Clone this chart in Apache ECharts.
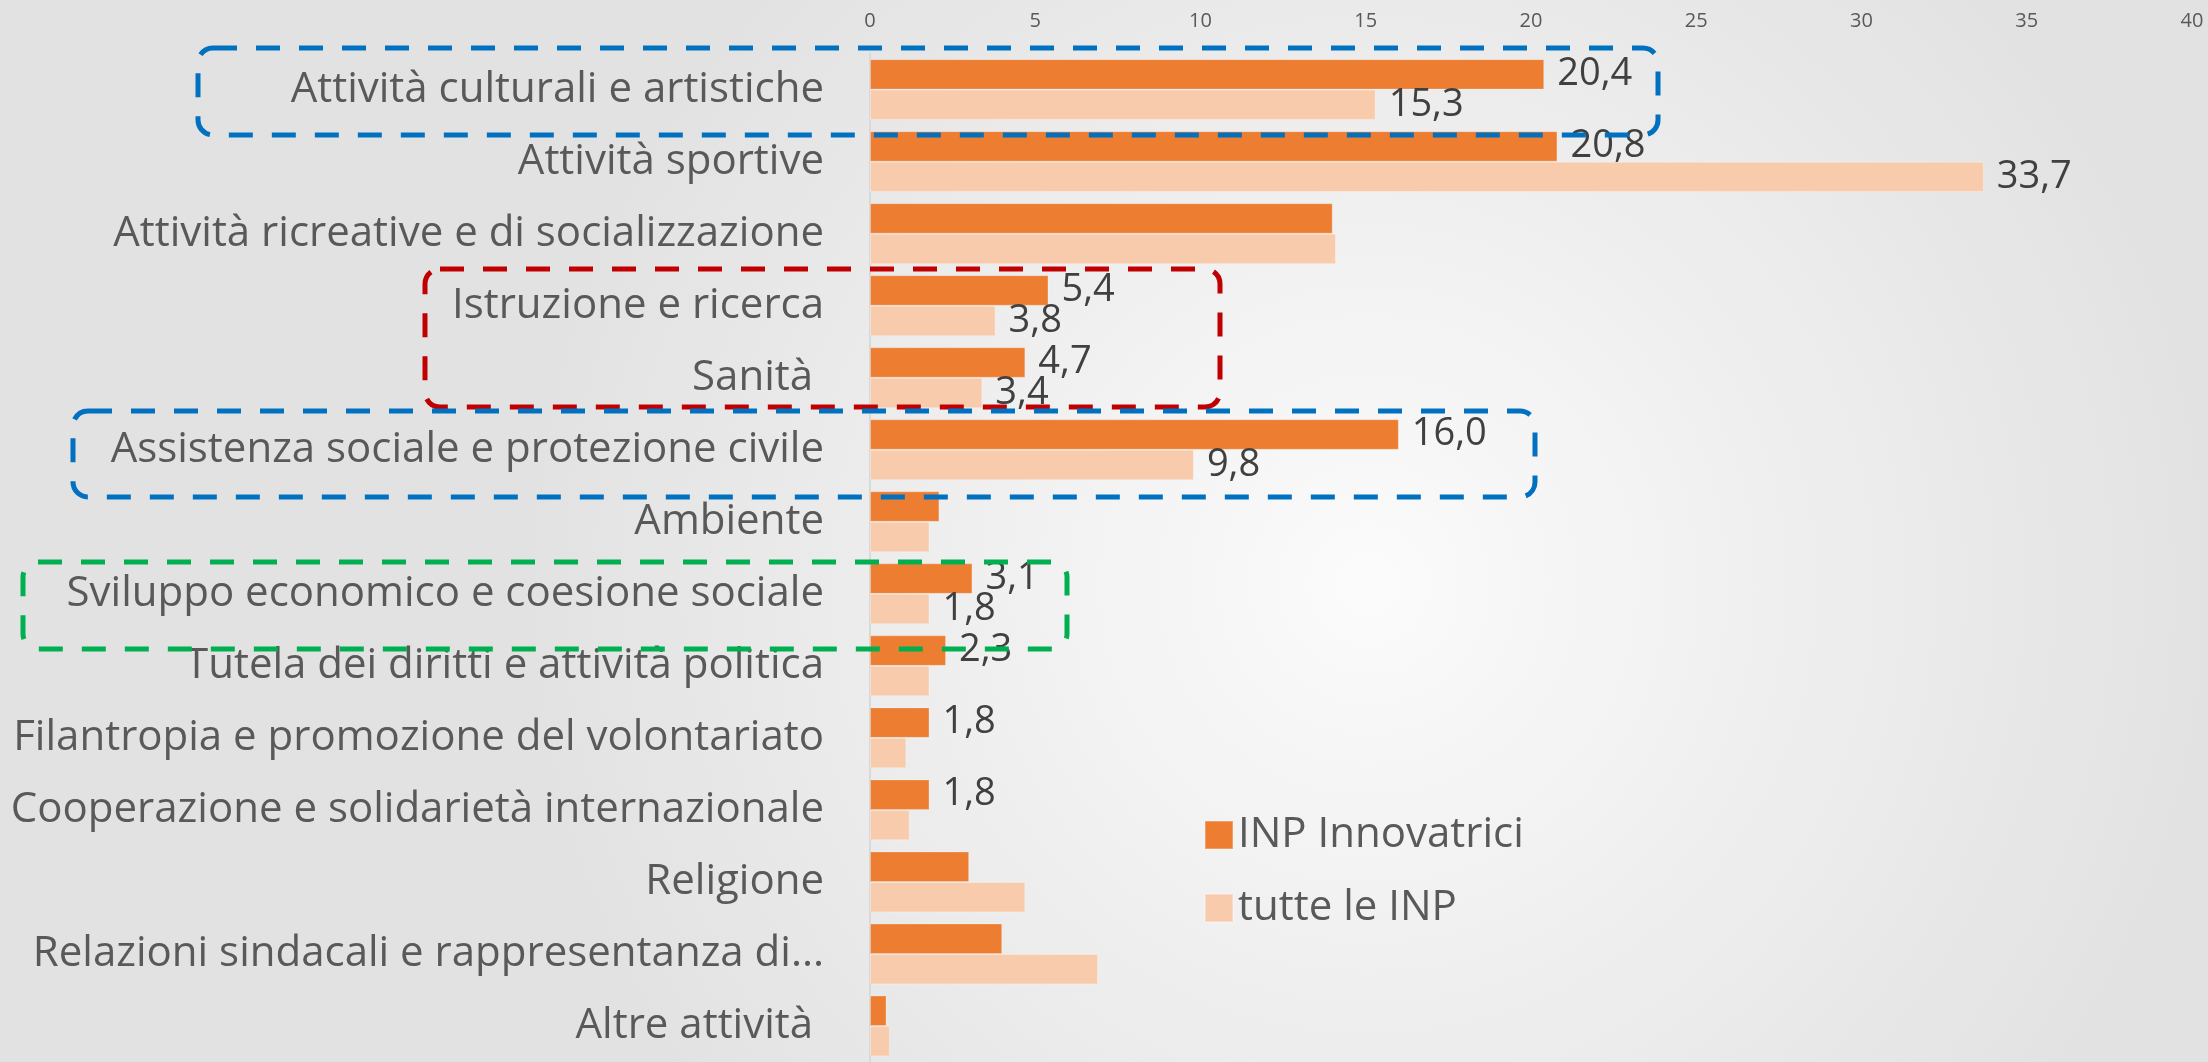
<!DOCTYPE html>
<html>
<head>
<meta charset="utf-8">
<style>
  html, body { margin: 0; padding: 0; width: 2208px; height: 1062px; overflow: hidden; }
  #chart { width: 2208px; height: 1062px; }
</style>
<script src="https://cdn.jsdelivr.net/npm/echarts@6/dist/echarts.min.js"></script>
</head>
<body>
<div id="chart"></div>
<script>
const categories = [
  'Attività culturali e artistiche',
  'Attività sportive',
  'Attività ricreative e di socializzazione',
  'Istruzione e ricerca',
  'Sanità ',
  'Assistenza sociale e protezione civile',
  'Ambiente',
  'Sviluppo economico e coesione sociale',
  'Tutela dei diritti e attività politica',
  'Filantropia e promozione del volontariato',
  'Cooperazione e solidarietà internazionale',
  'Religione',
  'Relazioni sindacali e rappresentanza di...',
  'Altre attività '
];
const seriesNames = ['INP Innovatrici', 'tutte le INP'];
const innovatrici = [20.4, 20.8, 14.0, 5.4, 4.7, 16.0, 2.1, 3.1, 2.3, 1.8, 1.8, 3.0, 4.0, 0.5];
const tutte       = [15.3, 33.7, 14.1, 3.8, 3.4, 9.8, 1.8, 1.8, 1.8, 1.1, 1.2, 4.7, 6.9, 0.6];
const innovLabelShown = [true, true, false, true, true, true, false, true, true, true, true, false, false, false];
const tutteLabelShown = [true, true, false, true, true, true, false, true, false, false, false, false, false, false];
const xMin = 0, xMax = 40, xInterval = 5;

const FONT = '"Open Sans", "Noto Sans", sans-serif';
const fmt = v => v.toFixed(1).replace('.', ',');

function buildData(values, shown) {
  return values.map((v, i) => ({ value: v, label: { show: shown[i] } }));
}

const chart = echarts.init(document.getElementById('chart'));

const labelStyle = {
  position: 'right',
  distance: 13,
  fontFamily: FONT,
  fontSize: 38,
  color: '#404040',
  formatter: p => fmt(p.value)
};

function box(x, y, w, h, color) {
  return {
    type: 'rect',
    z: 100,
    silent: true,
    shape: { x: x, y: y, width: w, height: h, r: 15 },
    style: { fill: 'none', stroke: color, lineWidth: 5, lineDash: [24, 19] }
  };
}

chart.setOption({
  backgroundColor: {
    type: 'radial', x: 0.62, y: 0.55, r: 0.8,
    colorStops: [{ offset: 0, color: '#fbfbfb' }, { offset: 1, color: '#e2e2e2' }]
  },
  animation: false,
  grid: { left: 870, right: 16, top: 53.6, bottom: -7.6, containLabel: false },
  xAxis: {
    type: 'value',
    position: 'top',
    min: xMin, max: xMax, interval: xInterval,
    axisLine: { show: false },
    axisTick: { show: false },
    splitLine: { show: false },
    axisLabel: { fontFamily: FONT, fontSize: 20, color: '#595959', margin: 22 }
  },
  yAxis: {
    type: 'category',
    inverse: true,
    data: categories,
    axisLine: { show: true, lineStyle: { color: '#d9d9d9', width: 2 } },
    axisTick: { show: false },
    axisLabel: { fontFamily: FONT, fontSize: 42, color: '#595959', margin: 46 }
  },
  legend: {
    data: seriesNames,
    orient: 'vertical',
    left: 1199,
    top: 809,
    itemWidth: 28,
    itemHeight: 28,
    itemGap: 31,
    icon: 'rect',
    textStyle: { fontFamily: FONT, fontSize: 42, color: '#595959', lineHeight: 42 }
  },
  series: [
    {
      name: seriesNames[0],
      type: 'bar',
      data: buildData(innovatrici, innovLabelShown),
      barGap: '0%',
      barCategoryGap: '15.4%',
      itemStyle: { color: '#ED7D31', borderColor: 'rgba(255,255,255,0.25)', borderWidth: 1 },
      label: labelStyle
    },
    {
      name: seriesNames[1],
      type: 'bar',
      data: buildData(tutte, tutteLabelShown),
      barGap: '0%',
      barCategoryGap: '15.4%',
      itemStyle: { color: '#F8CBAD', borderColor: 'rgba(255,255,255,0.3)', borderWidth: 1 },
      label: labelStyle
    }
  ],
  graphic: [
    box(198, 48, 1460, 87, '#0070C0'),
    box(425, 269, 795, 138, '#C00000'),
    box(73, 411, 1462, 86, '#0070C0'),
    box(23, 562, 1044, 87, '#00B050')
  ]
});
</script>
</body>
</html>
